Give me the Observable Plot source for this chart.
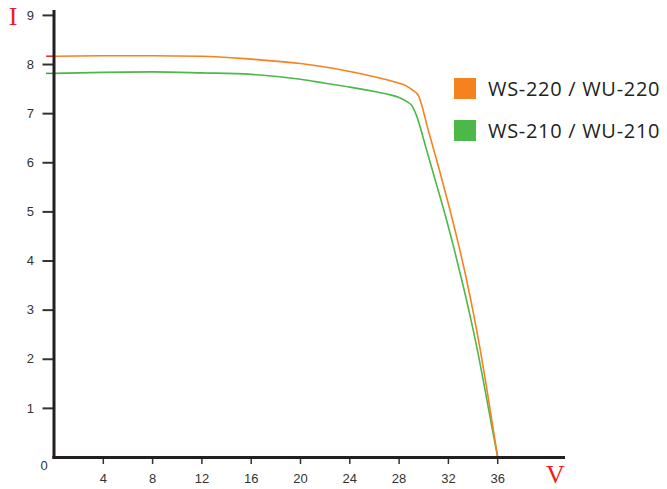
<!DOCTYPE html>
<html>
<head>
<meta charset="utf-8">
<script src="https://cdn.jsdelivr.net/npm/d3@7"></script>
<script src="https://cdn.jsdelivr.net/npm/@observablehq/plot@0.6"></script>
<style>
  html, body { margin: 0; padding: 0; background: #fff; }
  #wrap { position: relative; width: 667px; height: 489px; }
  #legend { position: absolute; left: 454px; top: 78px; font-family: "Open Sans", sans-serif; font-size: 20px; letter-spacing: 0.7px; color: #231f20; }
  .item { display: flex; align-items: center; height: 21px; margin-bottom: 21px; white-space: nowrap; }
  .sw { width: 22px; height: 21px; margin-right: 12px; }
</style>
</head>
<body>
<div id="wrap"><div id="legend"></div></div>
<script>
const seriesNames = ["WS-220 / WU-220", "WS-210 / WU-210"];
const seriesColors = ["#f5821f", "#4cb848"];

// WS-220 / WU-220 curve (voltage V, current A)
const v220 = [0, 4, 8, 12, 16, 20, 22, 24, 26, 27, 28, 28.6, 29.1, 29.56, 30.4, 31.22, 32.0, 32.74, 33.41, 34.02, 34.57, 35.07, 35.53, 36.0];
const i220 = [8.17, 8.18, 8.18, 8.17, 8.11, 8.02, 7.95, 7.86, 7.75, 7.69, 7.62, 7.56, 7.48, 7.37, 6.63, 5.90, 5.16, 4.42, 3.69, 2.95, 2.21, 1.47, 0.74, 0];

// WS-210 / WU-210 curve
const v210 = [0, 4, 8, 12, 16, 20, 22, 24, 26, 27, 28, 28.6, 29.1, 29.4, 30.22, 31.02, 31.80, 32.53, 33.21, 33.84, 34.43, 34.96, 35.47, 36.0];
const i210 = [7.82, 7.84, 7.85, 7.83, 7.80, 7.70, 7.62, 7.54, 7.45, 7.40, 7.33, 7.25, 7.14, 6.97, 6.27, 5.57, 4.88, 4.18, 3.48, 2.79, 2.09, 1.39, 0.70, 0];

const xTicks = [4, 8, 12, 16, 20, 24, 28, 32, 36];
const yTicks = [1, 2, 3, 4, 5, 6, 7, 8, 9];
const xLabel = "V";
const yLabel = "I";

const d220 = v220.map((v, k) => ({v, i: i220[k]}));
const d210 = v210.map((v, k) => ({v, i: i210[k]}));

const font = "'Liberation Sans', Arial, sans-serif";
const serif = "'Liberation Serif', 'DejaVu Serif', serif";

const chart = Plot.plot({
  width: 667,
  height: 489,
  marginLeft: 53.5,
  marginRight: 102,
  marginTop: 10,
  marginBottom: 32,
  style: {fontFamily: font, background: "transparent"},
  x: {domain: [0, 41.5], axis: null},
  y: {domain: [0, 9.1], axis: null},
  marks: [
    Plot.axisY({ticks: yTicks, label: null, tickSize: 11, tickPadding: 9, fontSize: 13, stroke: "#333", strokeWidth: 2, fill: "#333", tickFormat: d => d}),
    Plot.axisX({ticks: xTicks, label: null, tickSize: 7, tickPadding: 9, fontSize: 13, stroke: "#333", strokeWidth: 1.5, fill: "#333", tickFormat: d => d}),
    Plot.text(["0"], {x: 0, y: 0, text: d => d, dx: -10, dy: 8, fontSize: 13, fill: "#333", fontFamily: font}),
    Plot.ruleY([8.17], {x1: -0.6, x2: 0, stroke: "#ed1c24", strokeWidth: 1.5}),
    Plot.ruleY([7.82], {x1: -0.6, x2: 0, stroke: "#2a9d48", strokeWidth: 1.5}),
    Plot.line(d210, {x: "v", y: "i", stroke: seriesColors[1], strokeWidth: 1.6, curve: "monotone-x"}),
    Plot.line(d220, {x: "v", y: "i", stroke: seriesColors[0], strokeWidth: 1.6, curve: "monotone-x"}),
    Plot.ruleX([0], {y1: 0, y2: 9.1, stroke: "#231f20", strokeWidth: 3}),
    Plot.ruleY([0], {x1: -0.1, x2: 41.5, stroke: "#231f20", strokeWidth: 3}),
    Plot.text([yLabel], {frameAnchor: "top-left", text: d => d, dx: -41, dy: -4, fontSize: 26, fill: "#ed1c24", fontFamily: serif, textAnchor: "middle"}),
    Plot.text([xLabel], {frameAnchor: "bottom-right", text: d => d, dx: -10, dy: 25, fontSize: 26, fill: "#ed1c24", fontFamily: serif, textAnchor: "middle"})
  ]
});
document.getElementById("wrap").prepend(chart);

const legend = document.getElementById("legend");
seriesNames.forEach((name, k) => {
  const item = document.createElement("div");
  item.className = "item";
  const sw = document.createElement("div");
  sw.className = "sw";
  sw.style.background = seriesColors[k];
  const t = document.createElement("span");
  t.textContent = name;
  item.append(sw, t);
  legend.append(item);
});
</script>
</body>
</html>
